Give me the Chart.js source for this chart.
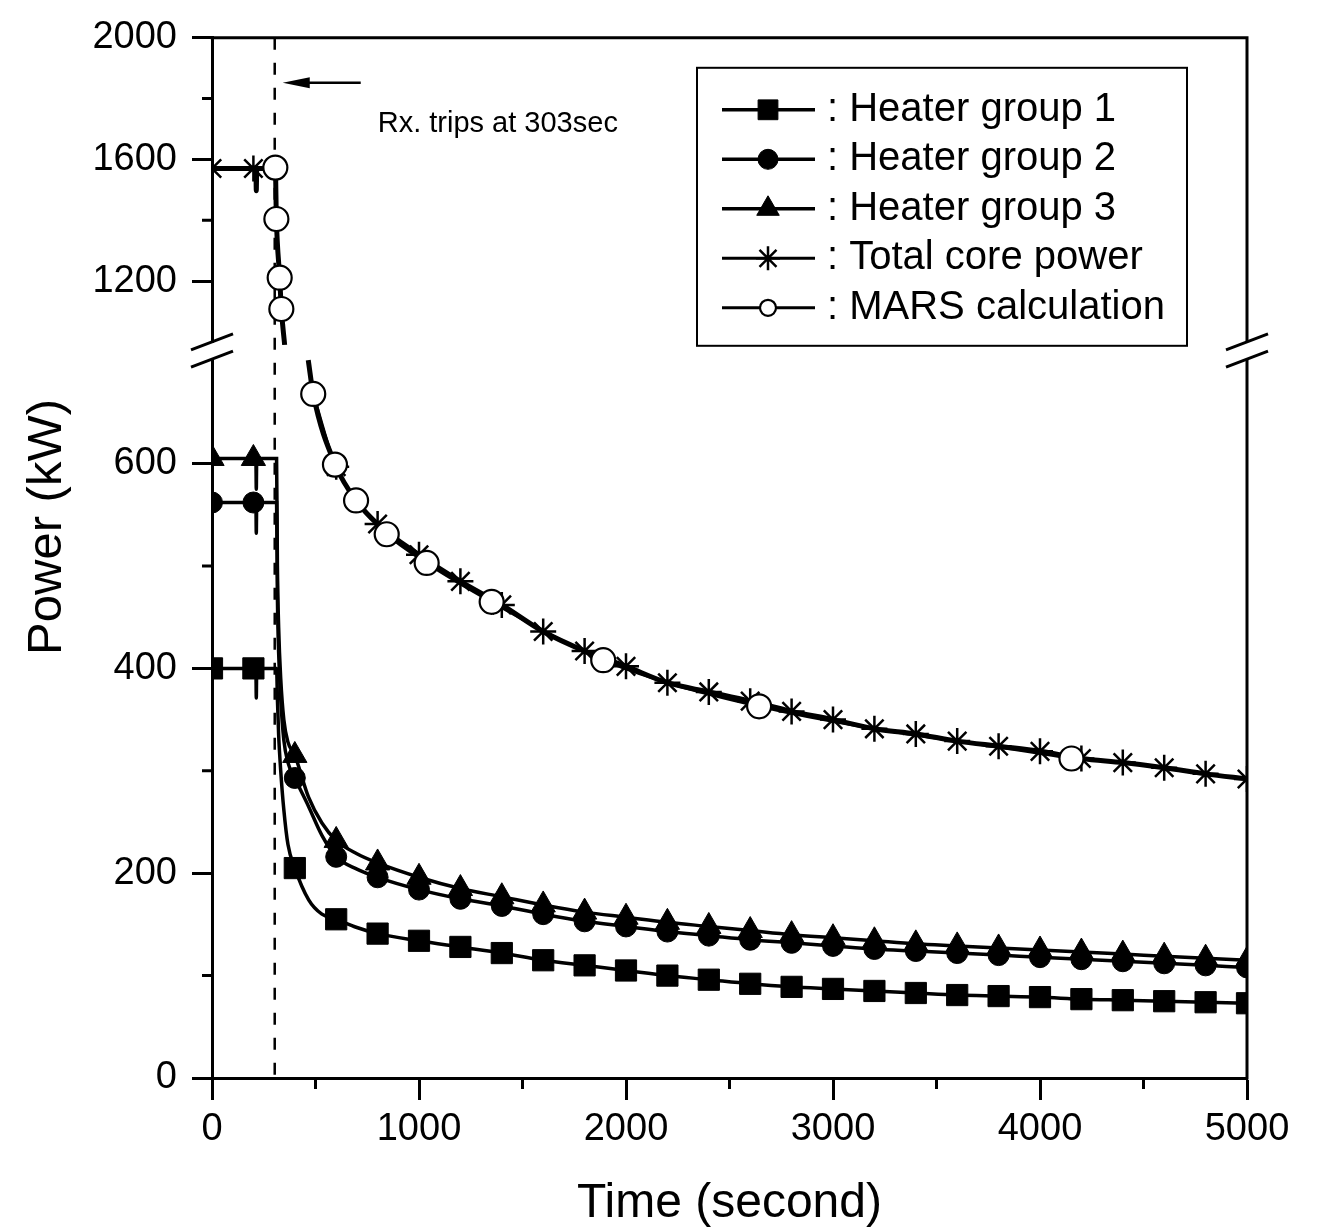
<!DOCTYPE html>
<html>
<head>
<meta charset="utf-8">
<script src="https://cdn.jsdelivr.net/npm/chart.js@4.4.0/dist/chart.umd.min.js"></script>
<style>
  html, body { margin: 0; padding: 0; background: #fff; }
  #wrap { width: 1324px; height: 1229px; }
</style>
</head>
<body>
<div id="wrap"><canvas id="c" width="1324" height="1229"></canvas></div>
<script>
// ---- series names ----
const seriesNames = ['Heater group 1', 'Heater group 2', 'Heater group 3', 'Total core power', 'MARS calculation'];

// ---- axis ticks ----
const xTicks = [0, 1000, 2000, 3000, 4000, 5000];
const xMinorTicks = [500, 1500, 2500, 3500, 4500];
const yLowerTicks = [0, 200, 400, 600];
const yLowerMinorTicks = [100, 300, 500];
const yUpperTicks = [1200, 1600, 2000];
const yUpperMinorTicks = [1400, 1800];

// ---- axis ranges (broken power axis) ----
const xMin = 0, xMax = 5000;
const lowerMin = 0, lowerMax = 710;
const upperMin = 970, upperMax = 2000;
const breakUpperValue = 1000;   // lowest value shown on the upper part
const breakLowerValue = 700;    // highest value shown on the lower part

// ---- reactor trip ----
const tripTime = 303;

// ---- times at which symbols are drawn on the measured curves ----
const markerTimes = [0, 200, 400, 600, 800, 1000, 1200, 1400, 1600, 1800, 2000, 2200, 2400,
  2600, 2800, 3000, 3200, 3400, 3600, 3800, 4000, 4200, 4400, 4600, 4800, 5000];

// ---- heater group powers (kW) ----
const timeHeater = [0, 200, 212, 214, 216, 312, 316, 322, 332, 347, 367, 400, 467, 531, 600, 700, 800,
  1000, 1200, 1400, 1600, 1800, 2000, 2200, 2400, 2600, 2800, 3000, 3200, 3400, 3600, 3800, 4000,
  4200, 4400, 4600, 4800, 5000];
const heater1 = [400, 400, 400, 371, 400, 400, 370, 335, 300, 262, 228, 205, 174, 160, 155, 147, 141,
  134, 128, 122, 115, 110, 105, 100, 96, 92, 89, 87, 85, 83, 81, 80, 79,
  77, 76, 75, 74, 73];
const heater2 = [562, 562, 562, 532, 562, 562, 470, 415, 370, 330, 308, 293, 265, 237, 216, 204, 196,
  184, 175, 168, 160, 153, 148, 143, 139, 135, 132, 129, 126, 124, 122, 120, 118,
  116, 114, 112, 110, 108];
const heater3 = [605, 605, 605, 575, 605, 605, 500, 440, 390, 350, 328, 315, 274, 249, 232, 219, 210,
  196, 185, 177, 169, 162, 157, 152, 148, 144, 140, 137, 134, 131, 129, 127, 125,
  123, 121, 119, 117, 115];

// ---- total core power (kW), upper and lower parts of the axis ----
const timeTotalUpper = [0, 200, 212, 214, 216, 306, 311, 327, 335, 351];
const totalUpper = [1570, 1570, 1570, 1497, 1570, 1570, 1404, 1211, 1108, 990];
const timeTotalLower = [465, 489, 600, 700, 800, 1000, 1200, 1400, 1600, 1800, 2000, 2200, 2400,
  2600, 2800, 3000, 3200, 3400, 3600, 3800, 4000, 4200, 4400, 4600, 4800, 5000];
const totalLower = [701, 668, 597, 563, 541, 511, 485, 462, 436, 417, 402, 386, 377,
  368, 358, 350, 341, 336, 329, 324, 319, 312, 308, 303, 297, 292];

// ---- MARS calculation (kW) ----
const timeMars = [306, 311, 327, 335, 489, 594, 696, 844, 1037, 1351, 1890, 2643, 4152];
const mars = [1573, 1404, 1211, 1108, 668, 599, 564, 531, 503, 465, 408, 363, 312];

// ---------------------------------------------------------------
const FONT = '"Liberation Sans", Arial, Helvetica, sans-serif';

const toPoints = (t, v) => t.map((x, i) => ({ x: x, y: v[i] }));

const styles = {
  h1:    { pointStyle: 'rect',     radius: 15, fill: '#000', lineWidth: 3.5, pbw: 1 },
  h2:    { pointStyle: 'circle',   radius: 10.5, fill: '#000', lineWidth: 3.5, pbw: 1 },
  h3:    { pointStyle: 'triangle', radius: 14, fill: '#000', lineWidth: 3.5, pbw: 1 },
  total: { pointStyle: 'star',     radius: 13, fill: '#000', lineWidth: 5,   pbw: 2.5 },
  mars:  { pointStyle: 'circle',   radius: 12, fill: '#fff', lineWidth: 3,   pbw: 2.2, all: true }
};

function makeSet(label, data, yAxisID, st) {
  return {
    label: label,
    data: data,
    xAxisID: 'x',
    yAxisID: yAxisID,
    borderColor: '#000',
    borderWidth: st.lineWidth,
    backgroundColor: st.fill,
    fill: false,
    cubicInterpolationMode: 'monotone',
    pointStyle: st.pointStyle,
    pointRadius: ctx => (st.all || (ctx.raw && markerTimes.includes(ctx.raw.x))) ? st.radius : 0,
    pointBackgroundColor: st.fill,
    pointBorderColor: '#000',
    pointBorderWidth: st.pbw
  };
}

const marsPoints = toPoints(timeMars, mars);
const datasets = [
  makeSet(seriesNames[4], marsPoints.filter(p => p.y >= breakUpperValue), 'y2', styles.mars),
  makeSet(seriesNames[4], marsPoints.filter(p => p.y <= lowerMax), 'y', styles.mars),
  makeSet(seriesNames[3], toPoints(timeTotalUpper, totalUpper), 'y2', styles.total),
  makeSet(seriesNames[3], toPoints(timeTotalLower, totalLower), 'y', styles.total),
  makeSet(seriesNames[2], toPoints(timeHeater, heater3), 'y', styles.h3),
  makeSet(seriesNames[1], toPoints(timeHeater, heater2), 'y', styles.h2),
  makeSet(seriesNames[0], toPoints(timeHeater, heater1), 'y', styles.h1)
];

const tickFont = { family: FONT, size: 38 };
const plainNumber = v => String(v);

function yAxis(ticksArr, min, max, weight) {
  return {
    type: 'linear',
    position: 'left',
    stack: 'power',
    stackWeight: weight,
    min: min,
    max: max,
    afterBuildTicks: s => { s.ticks = ticksArr.map(v => ({ value: v })); },
    ticks: { font: tickFont, color: '#000', padding: 15, autoSkip: false, callback: plainNumber },
    grid: { drawOnChartArea: false, drawTicks: true, tickLength: 20, tickWidth: 3, tickColor: '#000' },
    border: { display: true, width: 3, color: '#000' },
    afterFit: s => { s.width = 150; }
  };
}

// draws a symbol the same way the chart draws its points
function symbol(ctx, st, x, y, r) {
  ctx.save();
  ctx.fillStyle = st.fill;
  ctx.strokeStyle = '#000';
  ctx.lineWidth = st.pbw;
  Chart.helpers.drawPoint(ctx, { pointStyle: st.pointStyle, radius: r, rotation: 0, borderWidth: st.pbw }, x, y);
  ctx.restore();
}

const decorations = {
  id: 'decorations',
  beforeDatasetsDraw(chart) {
    const { ctx, chartArea: a, scales } = chart;
    const xt = scales.x.getPixelForValue(tripTime);
    ctx.save();
    ctx.strokeStyle = '#000';
    ctx.lineWidth = 2.5;
    ctx.setLineDash([12, 13]);
    ctx.beginPath();
    ctx.moveTo(xt, a.top);
    ctx.lineTo(xt, a.bottom);
    ctx.stroke();
    ctx.restore();
  },
  afterDraw(chart) {
    const { ctx, chartArea: a, scales } = chart;
    const xs = scales.x, yl = scales.y, yu = scales.y2;
    const bu = yu.getPixelForValue(breakUpperValue);
    const bl = yl.getPixelForValue(breakLowerValue) - 2;
    ctx.save();
    ctx.strokeStyle = '#000';
    ctx.lineCap = 'butt';

    // minor ticks
    ctx.lineWidth = 3;
    ctx.beginPath();
    xMinorTicks.forEach(v => { const p = xs.getPixelForValue(v); ctx.moveTo(p, a.bottom); ctx.lineTo(p, a.bottom + 11); });
    yLowerMinorTicks.forEach(v => { const p = yl.getPixelForValue(v); ctx.moveTo(a.left - 10, p); ctx.lineTo(a.left, p); });
    yUpperMinorTicks.forEach(v => { const p = yu.getPixelForValue(v); ctx.moveTo(a.left - 10, p); ctx.lineTo(a.left, p); });
    ctx.stroke();

    // open the left axis at the break
    ctx.fillStyle = '#fff';
    ctx.fillRect(a.left - 4, bu + 1, 8, bl - bu - 2);

    // top and right frame, right side broken as well
    ctx.beginPath();
    ctx.moveTo(a.left - 1.5, a.top);
    ctx.lineTo(a.right, a.top);
    ctx.moveTo(a.right, a.top - 1.5);
    ctx.lineTo(a.right, bu);
    ctx.moveTo(a.right, bl);
    ctx.lineTo(a.right, a.bottom + 1.5);
    ctx.stroke();

    // break marks
    ctx.lineWidth = 3;
    ctx.beginPath();
    [a.left, a.right].forEach(x0 => {
      [bu, bl].forEach(yb => { ctx.moveTo(x0 - 21, yb + 8); ctx.lineTo(x0 + 21, yb - 8); });
    });
    ctx.stroke();

    // trip annotation
    const xt = xs.getPixelForValue(tripTime);
    const ay = a.top + 45;
    ctx.lineWidth = 2.5;
    ctx.beginPath();
    ctx.moveTo(xt + 30, ay);
    ctx.lineTo(xt + 86, ay);
    ctx.stroke();
    ctx.fillStyle = '#000';
    ctx.beginPath();
    ctx.moveTo(xt + 8, ay);
    ctx.lineTo(xt + 35, ay - 5.5);
    ctx.lineTo(xt + 35, ay + 5.5);
    ctx.closePath();
    ctx.fill();
    ctx.font = '29px ' + FONT;
    ctx.textAlign = 'left';
    ctx.textBaseline = 'alphabetic';
    ctx.fillText('Rx. trips at ' + tripTime + 'sec', xt + 103, a.top + 94);

    // y-axis title
    ctx.save();
    ctx.translate(47, 527);
    ctx.rotate(-Math.PI / 2);
    ctx.font = '49px ' + FONT;
    ctx.textAlign = 'center';
    ctx.textBaseline = 'middle';
    ctx.fillText('Power (kW)', 0, 0);
    ctx.restore();

    // legend
    const lx = a.left + 485, ly = a.top + 30, lw = 490, lh = 278;
    ctx.fillStyle = '#fff';
    ctx.fillRect(lx, ly, lw, lh);
    ctx.lineWidth = 2;
    ctx.strokeRect(lx, ly, lw, lh);
    const entries = [
      { name: seriesNames[0], st: styles.h1, r: 14, lw: 3.5 },
      { name: seriesNames[1], st: styles.h2, r: 10, lw: 3.5 },
      { name: seriesNames[2], st: styles.h3, r: 13, lw: 3.5 },
      { name: seriesNames[3], st: styles.total, r: 12, lw: 3 },
      { name: seriesNames[4], st: styles.mars, r: 8, lw: 3 }
    ];
    ctx.font = '40px ' + FONT;
    ctx.textBaseline = 'middle';
    entries.forEach((e, i) => {
      const ry = ly + 42 + i * 49.5;
      ctx.strokeStyle = '#000';
      ctx.lineWidth = e.lw;
      ctx.beginPath();
      ctx.moveTo(lx + 25, ry);
      ctx.lineTo(lx + 118, ry);
      ctx.stroke();
      symbol(ctx, e.st, lx + 71, ry, e.r);
      ctx.fillStyle = '#000';
      ctx.fillText(': ' + e.name, lx + 130, ry);
    });
    ctx.restore();
  }
};

new Chart(document.getElementById('c'), {
  type: 'line',
  data: { datasets: datasets },
  options: {
    responsive: false,
    animation: false,
    devicePixelRatio: 1,
    events: [],
    layout: { padding: { left: 62, right: 77, top: 33, bottom: 0 } },
    plugins: { legend: { display: false }, tooltip: { enabled: false } },
    scales: {
      x: {
        type: 'linear',
        position: 'bottom',
        min: xMin,
        max: xMax,
        afterBuildTicks: s => { s.ticks = xTicks.map(v => ({ value: v })); },
        ticks: { font: tickFont, color: '#000', padding: 7, autoSkip: false, maxRotation: 0, callback: plainNumber },
        grid: { drawOnChartArea: false, drawTicks: true, tickLength: 22, tickWidth: 3, tickColor: '#000' },
        border: { display: true, width: 3, color: '#000' },
        title: { display: true, text: 'Time (second)', color: '#000',
                 font: { family: FONT, size: 48, lineHeight: 1 }, padding: { top: 0, bottom: 1 } },
        afterFit: s => { s.height = 151; }
      },
      y: yAxis(yLowerTicks, lowerMin, lowerMax, 729),
      y2: yAxis(yUpperTicks, upperMin, upperMax, 314)
    }
  },
  plugins: [decorations]
});
</script>
</body>
</html>
